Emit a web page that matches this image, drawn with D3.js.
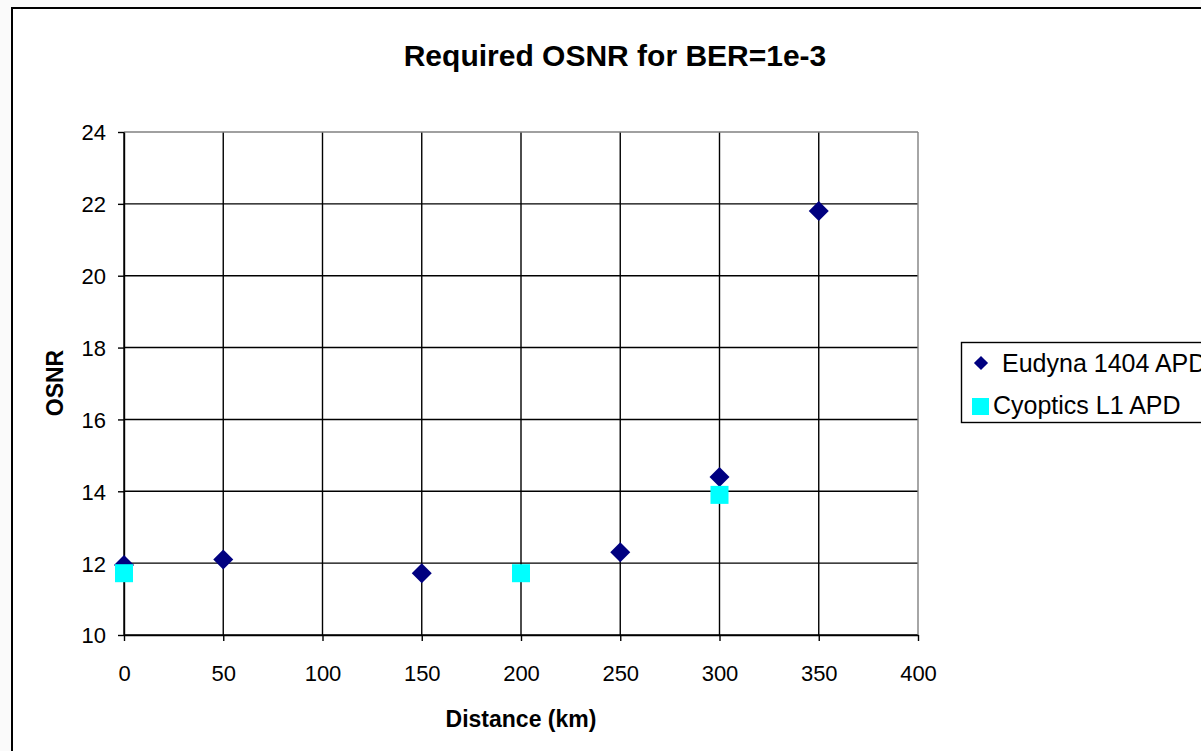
<!DOCTYPE html>
<html>
<head>
<meta charset="utf-8">
<script src="https://cdn.jsdelivr.net/npm/d3@7"></script>
<style>
  body { margin: 0; background: #fafafa; }
  svg { display: block; font-family: "Liberation Sans", Arial, sans-serif; }
</style>
</head>
<body>
<svg id="chart" width="1201" height="751"></svg>
<script>
// series values
const eudynaDist = [0, 50, 150, 250, 300, 350];
const eudynaOsnr = [11.95, 12.1, 11.72, 12.3, 14.4, 21.8];
const cyopticsDist = [0, 200, 300];
const cyopticsOsnr = [11.72, 11.72, 13.9];

const xTicks = [0, 50, 100, 150, 200, 250, 300, 350, 400];
const yTicks = [10, 12, 14, 16, 18, 20, 22, 24];

const seriesNames = ['Eudyna 1404 APD', 'Cyoptics L1 APD'];
const seriesColors = ['#000080', '#00ffff'];

const svg = d3.select('#chart');

// plot area
const plot = {left: 124, right: 918, top: 132, bottom: 635};
const lineW = 1.4;

const x = d3.scaleLinear().domain([0, 400]).range([plot.left, plot.right]);
const y = d3.scaleLinear().domain([10, 24]).range([plot.bottom, plot.top]);

// cropped heading from the page above (only its bottom shows)
svg.append('text')
    .attr('x', 110).attr('y', -5)
    .attr('fill', '#1f3864')
    .style('font-size', '24px').style('font-weight', 'bold')
    .text('y');

// chart frame
svg.append('rect')
    .attr('x', 12).attr('y', 8)
    .attr('width', 1220).attr('height', 760)
    .attr('fill', '#fff')
    .attr('stroke', '#000').attr('stroke-width', 2);

// title
svg.append('text')
    .attr('x', 615).attr('y', 66)
    .attr('text-anchor', 'middle')
    .style('font-size', '30px').style('font-weight', 'bold')
    .text('Required OSNR for BER=1e-3');

// gridlines
const grid = svg.append('g');
grid.selectAll('.vx')
    .data(xTicks.slice(0, -1))
    .enter().append('line')
    .attr('x1', d => x(d)).attr('x2', d => x(d))
    .attr('y1', plot.top).attr('y2', plot.bottom)
    .attr('stroke', '#000').attr('stroke-width', lineW);
grid.selectAll('.hy')
    .data(yTicks.slice(0, -1))
    .enter().append('line')
    .attr('x1', plot.left).attr('x2', plot.right)
    .attr('y1', d => y(d)).attr('y2', d => y(d))
    .attr('stroke', '#000').attr('stroke-width', lineW);

// plot border top/right in gray
grid.append('line')
    .attr('x1', plot.left).attr('x2', plot.right)
    .attr('y1', plot.top).attr('y2', plot.top)
    .attr('stroke', '#808080').attr('stroke-width', lineW);
grid.append('line')
    .attr('x1', plot.right).attr('x2', plot.right)
    .attr('y1', plot.top).attr('y2', plot.bottom)
    .attr('stroke', '#808080').attr('stroke-width', lineW);

// axes
const xAxis = d3.axisBottom(x).tickValues(xTicks).tickSize(6).tickPadding(24).tickSizeOuter(0);
const yAxis = d3.axisLeft(y).tickValues(yTicks).tickSize(6).tickPadding(12).tickSizeOuter(0);

const gx = svg.append('g')
    .attr('transform', `translate(0,${plot.bottom})`)
    .call(xAxis);
const gy = svg.append('g')
    .attr('transform', `translate(${plot.left},0)`)
    .call(yAxis);

[gx, gy].forEach(g => {
    g.selectAll('path, line').attr('stroke', '#000').attr('stroke-width', lineW);
    g.selectAll('text')
        .attr('fill', '#000')
        .style('font-size', '22px')
        .style('font-family', '"Liberation Sans", Arial, sans-serif');
});
gy.selectAll('text').attr('dy', '0.36em');

// axis titles
svg.append('text')
    .attr('x', 521).attr('y', 727)
    .attr('text-anchor', 'middle')
    .style('font-size', '23px').style('font-weight', 'bold')
    .text('Distance (km)');

svg.append('text')
    .attr('transform', 'translate(63,383) rotate(-90)')
    .attr('text-anchor', 'middle')
    .style('font-size', '23px').style('font-weight', 'bold')
    .text('OSNR');

// markers
const diamond = d3.symbol().type(d3.symbolSquare).size(200);

svg.append('g').selectAll('path')
    .data(eudynaDist.map((d, i) => [d, eudynaOsnr[i]]))
    .enter().append('path')
    .attr('d', diamond)
    .attr('transform', d => `translate(${x(d[0])},${y(d[1])}) rotate(45)`)
    .attr('fill', seriesColors[0]);

svg.append('g').selectAll('rect')
    .data(cyopticsDist.map((d, i) => [d, cyopticsOsnr[i]]))
    .enter().append('rect')
    .attr('x', d => x(d[0]) - 9)
    .attr('y', d => y(d[1]) - 9)
    .attr('width', 18).attr('height', 18)
    .attr('fill', seriesColors[1]);

// legend
const legend = svg.append('g');
legend.append('rect')
    .attr('x', 961.5).attr('y', 342.5)
    .attr('width', 260).attr('height', 80)
    .attr('fill', '#fff')
    .attr('stroke', '#000').attr('stroke-width', lineW);

legend.append('path')
    .attr('d', d3.symbol().type(d3.symbolSquare).size(100))
    .attr('transform', 'translate(981,363) rotate(45)')
    .attr('fill', seriesColors[0]);
legend.append('rect')
    .attr('x', 972).attr('y', 398)
    .attr('width', 17).attr('height', 17)
    .attr('fill', seriesColors[1]);

legend.selectAll('text')
    .data(seriesNames)
    .enter().append('text')
    .attr('x', (d, i) => i === 0 ? 1002 : 993)
    .attr('y', (d, i) => 372 + i * 42)
    .style('font-size', '25px')
    .text(d => d);
</script>
</body>
</html>
